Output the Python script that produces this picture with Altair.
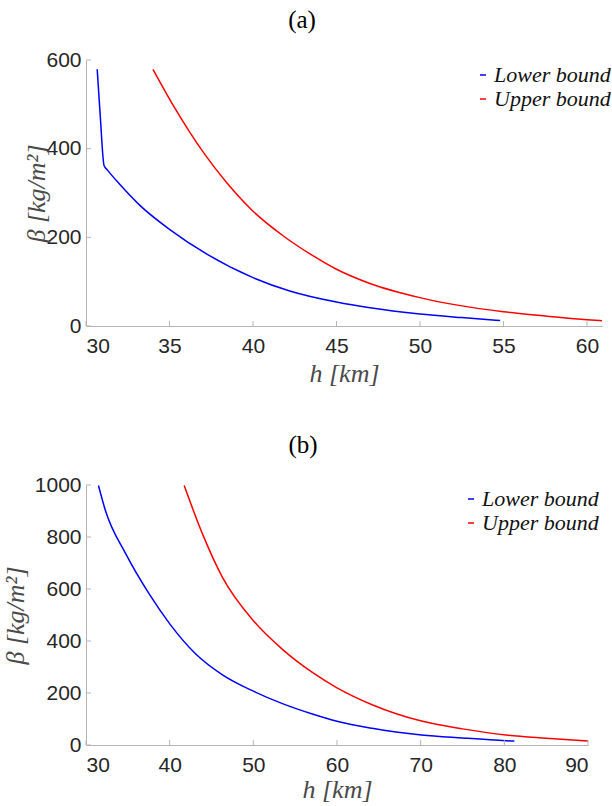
import altair as alt
import pandas as pd

# Panel (a): ballistic coefficient bounds versus altitude
a_lower_h = [30.67, 30.86, 31.08, 31.3, 32.06, 33.26, 35.0, 37.24, 40.0, 42.2, 45.0, 47.0, 50.0, 52.5, 54.8]
a_lower_beta = [579, 470, 362, 351, 318, 271, 218, 162, 109, 79, 54, 41, 27, 19, 12.5]
a_upper_h = [34.01, 35.25, 37.04, 38.43, 40.0, 41.82, 43.61, 45.0, 47.0, 50.0, 55.0, 57.5, 60.0, 60.9]
a_upper_beta = [579, 496, 391, 323, 259, 203, 158, 128, 96, 64, 32, 22.6, 14, 12]

# Panel (b)
b_lower_h = [31.49, 32.29, 34.76, 37.55, 40.01, 43.12, 46.31, 50.01, 53.48, 57.06, 60.0, 64.2, 70.1, 75.0, 80.2, 81.2]
b_lower_beta = [998, 905, 735, 581, 466, 350, 270, 207, 159, 119, 91, 64, 38.5, 27, 16.5, 15]
b_upper_h = [41.73, 43.92, 46.31, 50.01, 53.48, 57.06, 60.0, 64.2, 70.1, 75.0, 80.2, 85.0, 90.0]
b_upper_beta = [998, 812, 645, 478, 368, 279, 220, 155, 92, 62, 38.5, 26, 15]

series_names = ["Lower bound", "Upper bound"]
series_colors = ["#0000ff", "#ff0000"]

a_xticks = [30, 35, 40, 45, 50, 55, 60]
a_yticks = [0, 200, 400, 600]
b_xticks = [30, 40, 50, 60, 70, 80, 90]
b_yticks = [0, 200, 400, 600, 800, 1000]

AXIS_GREY = "#b5b5b5"
LABEL_FONT = "Liberation Sans"
MATH_FONT = "Liberation Serif"


def frame(lower_h, lower_b, upper_h, upper_b):
    rows = [{"h": h, "beta": b, "series": series_names[0]} for h, b in zip(lower_h, lower_b)]
    rows += [{"h": h, "beta": b, "series": series_names[1]} for h, b in zip(upper_h, upper_b)]
    return pd.DataFrame(rows)


def panel(df, title, title_dx, xdom, ydom, xticks, yticks, w, h,
          legend_x, legend_y, ytitle_x, xtitle_pad):
    xscale = alt.Scale(domain=xdom, nice=False, zero=False)
    yscale = alt.Scale(domain=ydom, nice=False)
    lines = alt.Chart(df).mark_line(strokeWidth=1.5, clip=True, interpolate="monotone").encode(
        x=alt.X("h:Q", scale=xscale, axis=alt.Axis(
            values=xticks, title="h [km]", ticks=False, labelPadding=9,
            titlePadding=xtitle_pad, domainColor=AXIS_GREY, grid=False, format="d")),
        y=alt.Y("beta:Q", scale=yscale, axis=alt.Axis(
            values=yticks, title="β [kg/m²]", ticks=False, labelPadding=5,
            titleX=ytitle_x, titleBaseline="middle",
            domainColor=AXIS_GREY, grid=False, format="d")),
        color=alt.Color("series:N", scale=alt.Scale(domain=series_names, range=series_colors),
                        legend=alt.Legend(title=None, orient="none", legendX=legend_x, legendY=legend_y,
                                          symbolType="stroke", symbolSize=36, symbolStrokeWidth=1.5,
                                          labelFont=MATH_FONT, labelFontStyle="italic",
                                          labelFontSize=22, labelColor="#111111", labelOffset=0,
                                          rowPadding=2, padding=0)),
        order=alt.Order("h:Q"),
    )
    # inward tick marks, as drawn by the plotting package
    xt = alt.Chart(pd.DataFrame({"t": xticks})).mark_rule(color=AXIS_GREY, strokeWidth=1).encode(
        x=alt.X("t:Q", scale=xscale), y=alt.value(h), y2=alt.value(h - 5))
    yt = alt.Chart(pd.DataFrame({"v": yticks})).mark_rule(color=AXIS_GREY, strokeWidth=1).encode(
        y=alt.Y("v:Q", scale=yscale), x=alt.value(0), x2=alt.value(5))
    return alt.layer(lines, xt, yt).properties(
        width=w, height=h,
        title=alt.TitleParams(text=title, font=MATH_FONT, fontSize=25, fontWeight="normal",
                              color="#000000", anchor="middle", frame="group", dx=title_dx,
                              offset=16),
    )


chart_a = panel(frame(a_lower_h, a_lower_beta, a_upper_h, a_upper_beta), "(a)", -42,
                [30, 60.9], [0, 600], a_xticks, a_yticks, 516, 266, 386, 4, -50, 4)
chart_b = panel(frame(b_lower_h, b_lower_beta, b_upper_h, b_upper_beta), "(b)", -34,
                [30, 90], [0, 1000], b_xticks, b_yticks, 502, 260, 374, 3, -71, 1)

chart = alt.vconcat(chart_a, chart_b, spacing=47).resolve_scale(
    x="independent", y="independent", color="independent"
).resolve_legend(color="independent").properties(
    padding={"left": 1, "top": 8, "right": 0, "bottom": 0},
    background="#ffffff",
).configure_view(stroke=None).configure_axis(
    labelFont=LABEL_FONT, labelFontSize=21, labelColor="#262626",
    titleFont=MATH_FONT, titleFontSize=26, titleFontStyle="italic", titleFontWeight="normal",
    titleColor="#4a4a4a", domainWidth=1,
)

chart.save("out.html", embed_options={"renderer": "svg", "actions": False})
